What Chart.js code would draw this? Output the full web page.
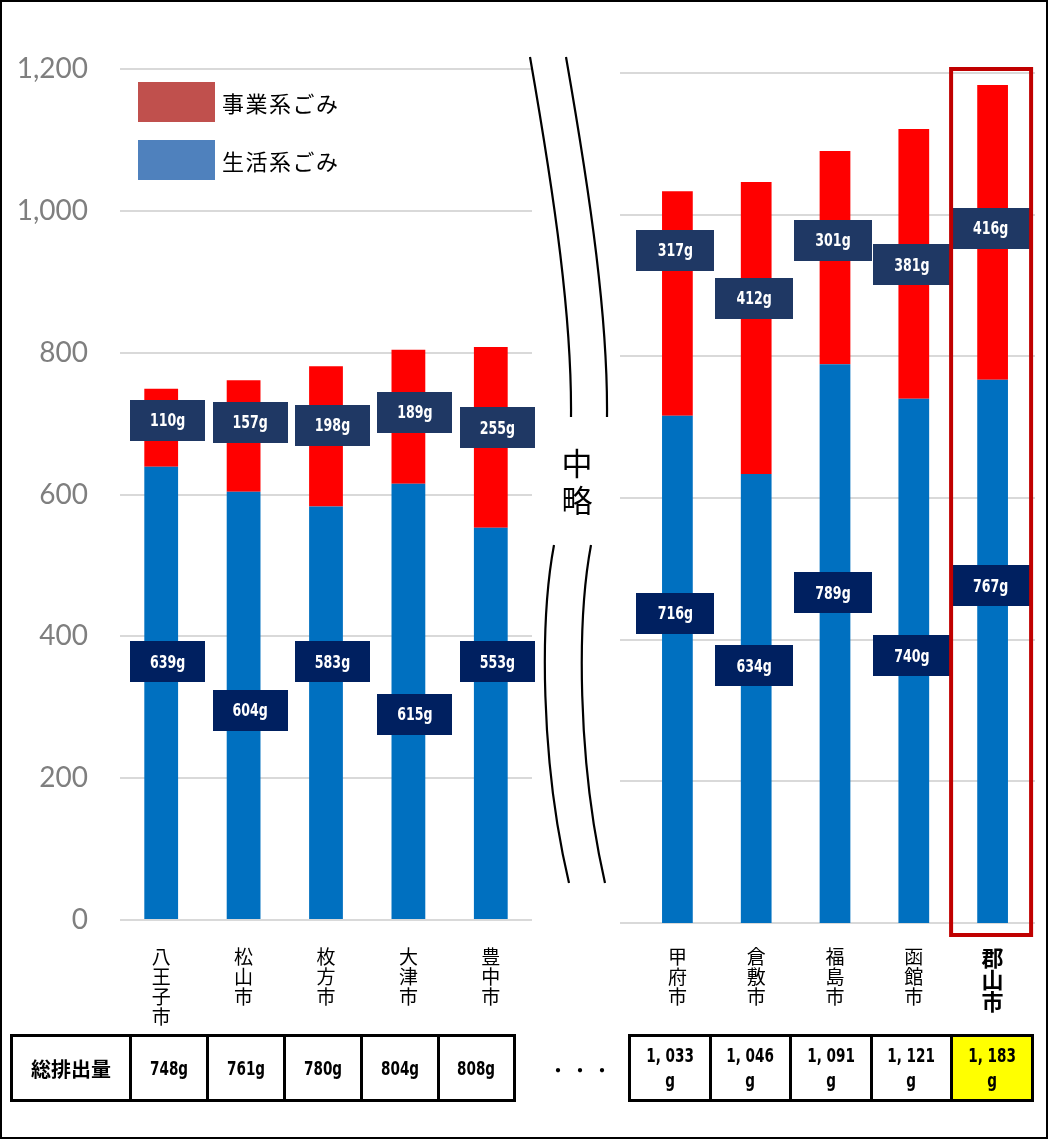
<!DOCTYPE html>
<html lang="ja">
<head>
<meta charset="utf-8">
<script src="https://cdn.jsdelivr.net/npm/chart.js@4.4.1/dist/chart.umd.min.js"></script>
<style>
  html, body { margin: 0; padding: 0; background: #fff; }
  #page { position: relative; width: 1048px; height: 1139px; overflow: hidden; background: #fff; }
  #frame { position: absolute; left: 0; top: 0; width: 1048px; height: 1139px; box-sizing: border-box; border: 2px solid #000; pointer-events: none; z-index: 10; }
  canvas { position: absolute; top: 0; }
  #chartA { left: 0; }
  #chartB { left: 600px; }
  #legend { position: absolute; left: 138px; top: 82px; font-family: "Noto Sans CJK JP", sans-serif; font-size: 22px; letter-spacing: 1.5px; color: #000; }
  .lg { height: 40px; margin-bottom: 18px; display: flex; align-items: center; }
  .lg span.sw { display: inline-block; width: 77px; height: 40px; margin-right: 7px; }
  #breaks { position: absolute; left: 0; top: 0; }
  #skip { position: absolute; left: 557px; top: 443px; width: 40px; text-align: center; font-family: "Noto Sans CJK JP", sans-serif; font-size: 31px; line-height: 37px; color: #000; }
  table { position: absolute; border-collapse: collapse; table-layout: fixed; top: 1034px; height: 68px; }
  td { border: 3px solid #000; text-align: center; vertical-align: middle; padding: 0; font-weight: bold; color: #000; white-space: nowrap; }
  td.num { font-family: "DejaVu Sans", sans-serif; font-size: 20px; }
  td.num span { display: inline-block; transform: scaleX(0.68); }
  td.head { font-family: "Noto Sans CJK JP", sans-serif; font-size: 20px; }
  #tableA { left: 10px; width: 503px; }
  #tableB { left: 628px; width: 404px; }
  #tableB td.num { line-height: 25px; }
  #dots { position: absolute; left: 548px; top: 1055px; font-family: "Noto Sans CJK JP", sans-serif; font-size: 20px; letter-spacing: 2px; }
</style>
</head>
<body>
<div id="page">
  <canvas id="chartA" width="545" height="1030"></canvas>
  <canvas id="chartB" width="448" height="1033"></canvas>
  <div id="legend"></div>
  <svg id="breaks" width="1048" height="1139">
    <g fill="none" stroke="#000" stroke-width="2.2">
      <path d="M530,57 C555,200 572,320 571,417"/>
      <path d="M566,57 C591,200 608,320 607,417"/>
      <path d="M554,545 C540,620 540,760 569,883"/>
      <path d="M591,545 C577,620 577,760 605,883"/>
    </g>
  </svg>
  <div id="skip">中<br>略</div>
  <table id="tableA"></table>
  <div id="dots">・・・</div>
  <table id="tableB"></table>
  <div id="frame"></div>
</div>
<script>
// data
const seriesNames = ['生活系ごみ', '事業系ごみ'];
const citiesA = ['八王子市', '松山市', '枚方市', '大津市', '豊中市'];
const homeA = [639, 604, 583, 615, 553];
const bizA = [110, 157, 198, 189, 255];
const totalA = [748, 761, 780, 804, 808];

const citiesB = ['甲府市', '倉敷市', '福島市', '函館市', '郡山市'];
const homeB = [716, 634, 789, 740, 767];
const bizB = [317, 412, 301, 381, 416];
const totalB = [1033, 1046, 1091, 1121, 1183];

const yMin = 0, yMax = 1200, yStep = 200;
const tableHead = '総排出量';

// where the value boxes sit (in grams on the y scale)
const boxAtHomeA = [364, 296, 364, 290, 364];
const boxAtBizA = [705, 702, 698, 716, 694];
const boxAtHomeB = [437, 363, 466, 377, 476];
const boxAtBizB = [950, 882, 964, 929, 981];

const barColors = ['#0070C0', '#FF0000'];
const legendColors = ['#4F81BD', '#C0504D'];
const boxColors = ['#002060', '#1F3864'];

const vertical = s => s.split('');
const boxFont = 'bold 18px "DejaVu Sans", sans-serif';

const valueBoxes = {
  id: 'valueBoxes',
  afterDatasetsDraw(chart, args, opts) {
    const { ctx, scales: { x, y } } = chart;
    ctx.save();
    chart.data.datasets.forEach((ds, di) => {
      ds.data.forEach((v, i) => {
        const cx = x.getPixelForValue(i) + opts.dx;
        const cy = y.getPixelForValue(opts.at[di][i]);
        ctx.fillStyle = boxColors[di];
        ctx.fillRect(Math.round(cx - opts.w / 2), Math.round(cy - 20.5), opts.w, 41);
        ctx.save();
        ctx.translate(cx, cy + 1);
        ctx.scale(0.7, 1);
        ctx.fillStyle = '#fff';
        ctx.font = boxFont;
        ctx.textAlign = 'center';
        ctx.textBaseline = 'middle';
        ctx.fillText(v + 'g', 0, 0);
        ctx.restore();
      });
    });
    ctx.restore();
  }
};

const wideGrid = {
  id: 'wideGrid',
  beforeDatasetsDraw(chart, args, opts) {
    const { ctx, scales: { y } } = chart;
    ctx.save();
    ctx.strokeStyle = '#D9D9D9';
    ctx.lineWidth = 2;
    y.ticks.forEach(t => {
      const py = Math.round(y.getPixelForValue(t.value));
      ctx.beginPath();
      ctx.moveTo(opts.x0, py);
      ctx.lineTo(opts.x1, py);
      ctx.stroke();
    });
    ctx.restore();
  }
};

const highlight = {
  id: 'highlight',
  afterDraw(chart, args, opts) {
    const { ctx, chartArea, scales: { x } } = chart;
    const cx = x.getPixelForValue(opts.index);
    ctx.save();
    ctx.strokeStyle = '#C00000';
    ctx.lineWidth = 4;
    ctx.strokeRect(cx - 41.5, chartArea.top - 4, 80, chartArea.bottom - chartArea.top + 16);
    ctx.restore();
  }
};

function makeDatasets(home, biz, pct) {
  return [
    { label: seriesNames[0], data: home, backgroundColor: barColors[0], barPercentage: pct, categoryPercentage: 1 },
    { label: seriesNames[1], data: biz, backgroundColor: barColors[1], barPercentage: pct, categoryPercentage: 1 }
  ];
}

const tickFontA = { family: '"Noto Sans CJK JP", sans-serif', size: 19, lineHeight: '20px' };

new Chart(document.getElementById('chartA'), {
  type: 'bar',
  data: { labels: citiesA.map(vertical), datasets: makeDatasets(homeA, bizA, 0.41) },
  options: {
    responsive: false,
    animation: false,
    layout: { padding: { top: 69, right: 13, bottom: 0, left: 0 } },
    plugins: {
      legend: { display: false },
      tooltip: { enabled: false },
      valueBoxes: { dx: 6.5, w: 75, at: [boxAtHomeA, boxAtBizA] }
    },
    scales: {
      x: {
        stacked: true,
        grid: { display: false, drawTicks: false },
        border: { display: false },
        ticks: { color: '#000', font: tickFontA, padding: 27, maxRotation: 0, autoSkip: false },
        afterFit(s) { s.height = 110; }
      },
      y: {
        stacked: true,
        min: yMin, max: yMax,
        grid: { color: '#D9D9D9', lineWidth: 2, drawTicks: false },
        border: { display: false },
        ticks: {
          stepSize: yStep,
          padding: 32,
          color: '#7F7F7F',
          font: { family: 'Lato, "Open Sans", sans-serif', size: 28 },
          callback: v => v.toLocaleString('en-US')
        },
        afterFit(s) { s.width = 120; }
      }
    }
  },
  plugins: [valueBoxes]
});

new Chart(document.getElementById('chartB'), {
  type: 'bar',
  data: { labels: citiesB.map(vertical), datasets: makeDatasets(homeB, bizB, 0.39) },
  options: {
    responsive: false,
    animation: false,
    layout: { padding: { top: 73, right: 16, bottom: 0, left: 38 } },
    plugins: {
      legend: { display: false },
      tooltip: { enabled: false },
      valueBoxes: { dx: -2, w: 78, at: [boxAtHomeB, boxAtBizB] },
      wideGrid: { x0: 20, x1: 435 },
      highlight: { index: citiesB.length - 1 }
    },
    scales: {
      x: {
        stacked: true,
        grid: { display: false, drawTicks: false },
        border: { display: false },
        ticks: {
          color: '#000', padding: 24, maxRotation: 0, autoSkip: false,
          font: c => c.index === citiesB.length - 1
            ? { family: '"Noto Sans CJK JP", sans-serif', size: 22, weight: 'bold', lineHeight: '22px' }
            : tickFontA
        },
        afterFit(s) { s.height = 110; }
      },
      y: {
        stacked: true,
        min: yMin, max: yMax,
        grid: { display: false, drawTicks: false },
        border: { display: false },
        ticks: { stepSize: yStep, display: false },
        afterFit(s) { s.width = 0; }
      }
    }
  },
  plugins: [wideGrid, valueBoxes, highlight]
});

// legend (business first, like the original)
const legend = document.getElementById('legend');
[1, 0].forEach(i => {
  const row = document.createElement('div');
  row.className = 'lg';
  row.innerHTML = '<span class="sw" style="background:' + legendColors[i] + '"></span>' + seriesNames[i];
  legend.appendChild(row);
});

// totals tables
function fillTable(id, totals, widths, withHead, fmt) {
  const t = document.getElementById(id);
  const cg = document.createElement('colgroup');
  widths.forEach(w => { const c = document.createElement('col'); c.style.width = w + 'px'; cg.appendChild(c); });
  t.appendChild(cg);
  const tr = document.createElement('tr');
  if (withHead) {
    const th = document.createElement('td');
    th.className = 'head';
    th.textContent = tableHead;
    tr.appendChild(th);
  }
  totals.forEach((v, i) => {
    const td = document.createElement('td');
    td.className = 'num';
    td.innerHTML = fmt(v);
    if (id === 'tableB' && i === totals.length - 1) td.style.background = '#FFFF00';
    tr.appendChild(td);
  });
  t.appendChild(tr);
}
fillTable('tableA', totalA, [119, 77, 77, 77, 77, 76], true, v => '<span>' + v + 'g</span>');
fillTable('tableB', totalB, [81, 80, 81, 80, 81], false,
  v => '<span>' + v.toLocaleString('en-US').replace(',', ', ') + '</span><br><span>g</span>');
</script>
</body>
</html>
